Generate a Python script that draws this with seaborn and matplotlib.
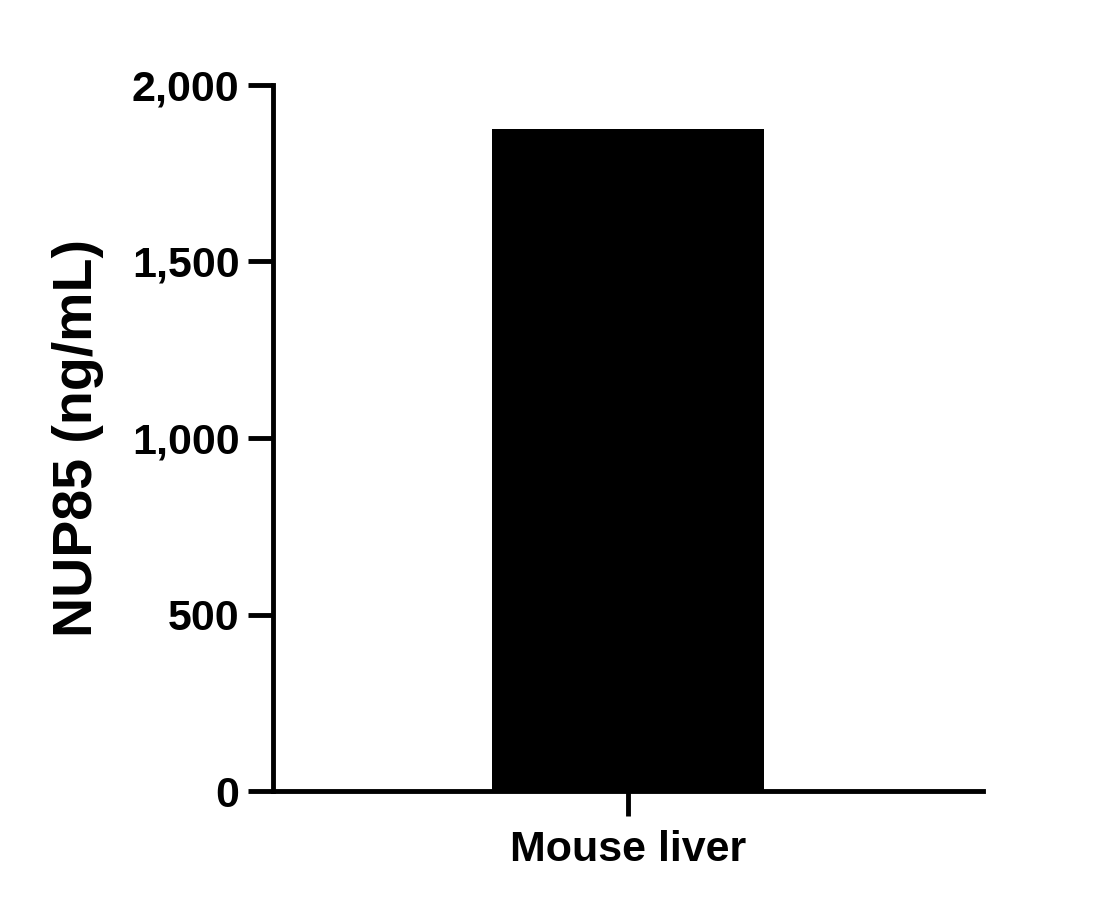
import matplotlib
matplotlib.use("Agg")
import matplotlib.pyplot as plt
import matplotlib.ticker as mticker
import seaborn as sns
import pandas as pd

# -------------------------------
# Data
# -------------------------------
samples = ["Mouse liver"]
concentrations = [1875]

df = pd.DataFrame({"Sample": samples, "NUP85": concentrations})

# -------------------------------
# Style
# -------------------------------
sns.set_style("ticks")
plt.rcParams["font.family"] = ["Liberation Sans", "DejaVu Sans"]
plt.rcParams["font.weight"] = "bold"
plt.rcParams["text.color"] = "black"
plt.rcParams["axes.labelcolor"] = "black"
plt.rcParams["xtick.color"] = "black"
plt.rcParams["ytick.color"] = "black"

fig = plt.figure(figsize=(11.15, 9.09), dpi=100)
ax = fig.add_axes([0.2448, 0.1298, 0.6368, 0.7767])

sns.barplot(data=df, x="Sample", y="NUP85", color="black", width=0.8,
            edgecolor="black", linewidth=0, saturation=1, ax=ax)

ax.set_ylim(0, 2000)
ax.set_xlim(-1.044, 1.044)
ax.yaxis.set_major_locator(mticker.MultipleLocator(500))
ax.yaxis.set_major_formatter(mticker.FuncFormatter(lambda v, p: f"{int(v):,}"))

sns.despine(ax=ax)
for side in ["left", "bottom"]:
    ax.spines[side].set_linewidth(3.5)
    ax.spines[side].set_color("black")

ax.tick_params(axis="both", length=18, width=3.5, colors="black", labelsize=31)
ax.tick_params(axis="y", pad=6)
ax.tick_params(axis="x", pad=10)
for lbl in ax.get_xticklabels() + ax.get_yticklabels():
    lbl.set_fontweight("bold")

ax.set_xlabel("")
ax.set_ylabel("NUP85 (ng/mL)", fontsize=40, fontweight="bold", labelpad=20,
              color="black")

fig.savefig("out.png", dpi=100)
